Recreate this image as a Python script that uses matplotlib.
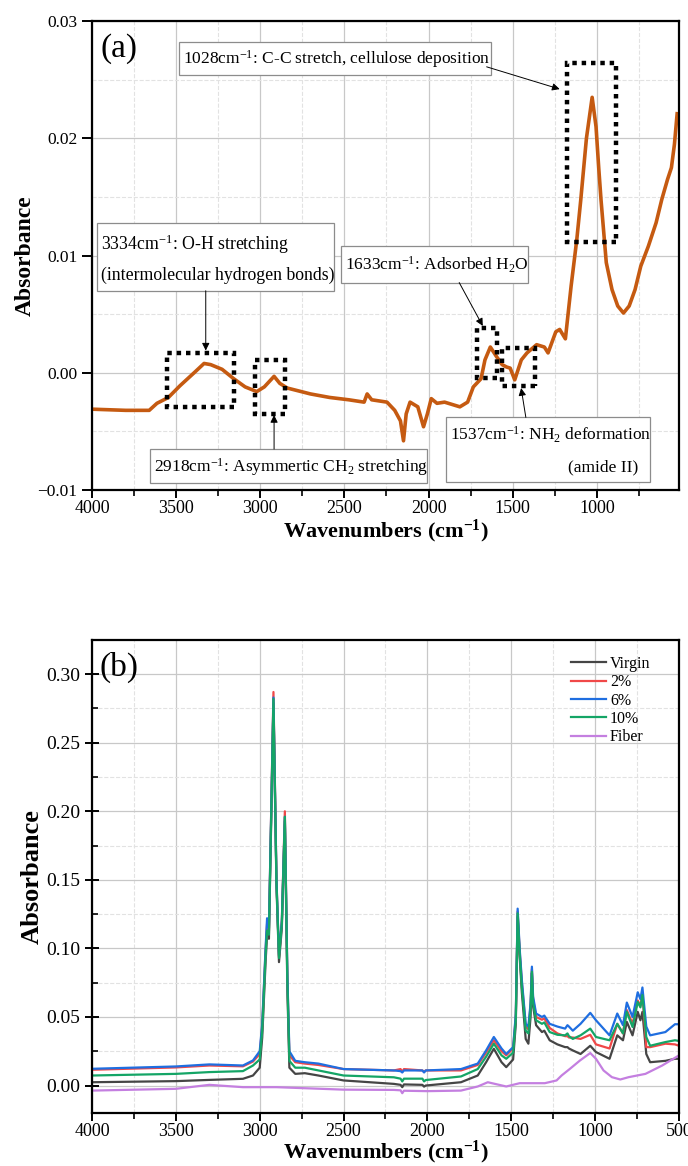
import matplotlib
matplotlib.use("Agg")
import matplotlib.pyplot as plt
from matplotlib.patches import Rectangle
from matplotlib.ticker import MultipleLocator, FixedLocator

plt.rcParams['font.family'] = ['Liberation Serif', 'DejaVu Serif']
plt.rcParams['mathtext.fontset'] = 'custom'
plt.rcParams['mathtext.rm'] = 'Liberation Serif'
plt.rcParams['mathtext.it'] = 'Liberation Serif:italic'
plt.rcParams['mathtext.bf'] = 'Liberation Serif:bold'

# ---- panel (a): fiber spectrum ----
wn_a = [4000, 3800, 3660, 3614, 3546, 3477, 3386, 3334, 3295, 3227, 3158, 3090,
        3021, 2976, 2918, 2884, 2839, 2702, 2588, 2474, 2383, 2365, 2338, 2247,
        2201, 2167, 2149, 2133, 2110, 2064, 2030, 2007, 1984, 1950, 1905, 1814,
        1768, 1734, 1688, 1665, 1633, 1597, 1563, 1537, 1515, 1488, 1449, 1415,
        1358, 1312, 1290, 1244, 1221, 1187, 1153, 1119, 1096, 1062, 1028, 1005,
        989, 975, 944, 910, 876, 842, 808, 773, 739, 694, 648, 614, 580, 557,
        539, 523]
abs_a = [-0.0031, -0.0032, -0.0032, -0.0026, -0.0021, -0.0011, 0.0001, 0.0008,
         0.0007, 0.0003, -0.0005, -0.0012, -0.0016, -0.0012, -0.0003, -0.0009,
         -0.0013, -0.0018, -0.0021, -0.0023, -0.0025, -0.0018, -0.0023, -0.0025,
         -0.0032, -0.0041, -0.0058, -0.0035, -0.0025, -0.0029, -0.0046, -0.0035,
         -0.0022, -0.0026, -0.0025, -0.0029, -0.0025, -0.0012, -0.0005, 0.0011,
         0.0022, 0.0014, 0.0007, 0.0005, 0.0004, -0.0006, 0.0011, 0.0017,
         0.0024, 0.0022, 0.0017, 0.0035, 0.0037, 0.0029, 0.0074, 0.0114,
         0.0147, 0.0200, 0.0235, 0.0210, 0.0175, 0.0147, 0.0094, 0.0071,
         0.0057, 0.0051, 0.0057, 0.0071, 0.0091, 0.0108, 0.0128, 0.0148,
         0.0165, 0.0175, 0.0195, 0.0221]

# ---- panel (b): composites ----
wn_b = [4000, 3500, 3300, 3100, 3040, 3000, 2985, 2965, 2956, 2945, 2918, 2900,
        2885, 2868, 2850, 2835, 2823, 2788, 2731, 2650, 2500, 2200, 2160, 2150,
        2140, 2030, 2020, 2010, 1800, 1700, 1650, 1604, 1558, 1530, 1489, 1473,
        1462, 1450, 1437, 1414, 1398, 1385, 1377, 1370, 1352, 1317, 1303, 1271,
        1225, 1179, 1165, 1156, 1133, 1087, 1029, 995, 914, 868, 834, 811, 777,
        746, 730, 718, 695, 672, 581, 524, 500]
virgin = [0.0024, 0.0032, 0.0041, 0.0049, 0.0073, 0.013, 0.035, 0.09, 0.11, 0.107,
          0.279, 0.145, 0.090, 0.115, 0.193, 0.07, 0.013, 0.0085, 0.009, 0.0073,
          0.0037, 0.0012, 0.0005, -0.0012, 0.0008, 0.0005, -0.0008, 0.0, 0.0024,
          0.0073, 0.017, 0.0268, 0.017, 0.0134, 0.019, 0.045, 0.123, 0.094, 0.068,
          0.034, 0.0305, 0.05, 0.082, 0.058, 0.044, 0.039, 0.040, 0.033, 0.030,
          0.028, 0.028, 0.027, 0.0256, 0.023, 0.029, 0.0244, 0.0195, 0.0366,
          0.033, 0.0464, 0.0366, 0.0537, 0.0476, 0.0537, 0.023, 0.017, 0.018,
          0.0195, 0.0195]
pct2 = [0.0115, 0.0132, 0.0146, 0.0140, 0.0175, 0.023, 0.043, 0.098, 0.118, 0.113,
        0.287, 0.15, 0.094, 0.12, 0.200, 0.078, 0.022, 0.017, 0.016, 0.015,
        0.012, 0.011, 0.012, 0.010, 0.012, 0.011, 0.010, 0.011, 0.011, 0.015,
        0.024, 0.033, 0.025, 0.022, 0.027, 0.050, 0.127, 0.098, 0.075, 0.043,
        0.041, 0.058, 0.085, 0.063, 0.050, 0.048, 0.049, 0.042, 0.038, 0.036,
        0.036, 0.035, 0.035, 0.034, 0.037, 0.030, 0.027, 0.045, 0.038, 0.055,
        0.045, 0.062, 0.058, 0.067, 0.028, 0.028, 0.0305, 0.030, 0.029]
pct6 = [0.0122, 0.0139, 0.0154, 0.0146, 0.0183, 0.025, 0.045, 0.10, 0.122, 0.115,
        0.283, 0.15, 0.095, 0.12, 0.196, 0.08, 0.025, 0.018, 0.017, 0.016,
        0.012, 0.011, 0.0105, 0.0095, 0.011, 0.011, 0.0095, 0.011, 0.012, 0.016,
        0.0256, 0.0354, 0.027, 0.023, 0.028, 0.052, 0.129, 0.10, 0.077, 0.045,
        0.043, 0.06, 0.0867, 0.065, 0.0525, 0.050, 0.051, 0.045, 0.043, 0.0415,
        0.044, 0.043, 0.040, 0.045, 0.053, 0.0476, 0.0366, 0.0525, 0.044, 0.0605,
        0.050, 0.068, 0.063, 0.0715, 0.043, 0.0366, 0.039, 0.0447, 0.0447]
pct10 = [0.0073, 0.0085, 0.0098, 0.0105, 0.0146, 0.019, 0.040, 0.095, 0.113, 0.11,
         0.282, 0.148, 0.093, 0.118, 0.196, 0.075, 0.018, 0.013, 0.013, 0.011,
         0.0073, 0.006, 0.005, 0.003, 0.005, 0.005, 0.003, 0.004, 0.0066, 0.012,
         0.021, 0.0305, 0.022, 0.0195, 0.024, 0.048, 0.1256, 0.096, 0.072, 0.040,
         0.038, 0.055, 0.083, 0.060, 0.0476, 0.045, 0.046, 0.039, 0.037, 0.0366,
         0.038, 0.036, 0.034, 0.0366, 0.0415, 0.0354, 0.033, 0.045, 0.038, 0.0537,
         0.0427, 0.061, 0.057, 0.066, 0.0354, 0.029, 0.0317, 0.033, 0.0325]
wn_fiber = [4000, 3500, 3300, 3100, 2900, 2500, 2200, 2160, 2150, 2140, 2000, 1800,
            1700, 1640, 1530, 1450, 1300, 1230, 1200, 1150, 1090, 1029, 995, 950,
            900, 850, 800, 700, 600, 500]
fiber = [-0.0037, -0.0024, 0.0005, -0.0012, -0.0012, -0.0030, -0.0032, -0.0035,
         -0.0056, -0.0038, -0.0041, -0.0037, -0.0007, 0.0024, -0.0007, 0.0017,
         0.0017, 0.0037, 0.0073, 0.0122, 0.0183, 0.0237, 0.0195, 0.011, 0.0061,
         0.0044, 0.0061, 0.0085, 0.0146, 0.022]

series_names = ['Virgin', '2%', '6%', '10%', 'Fiber']
series_colors = ['#454545', '#f04848', '#1f6ee0', '#14a566', '#c47fe0']


def style_axes(ax, ytick_size, xtick_size):
    ax.grid(which='major', color='#c8c8c8', lw=0.9)
    ax.grid(which='minor', color='#e2e2e2', lw=0.8, ls='--')
    ax.set_axisbelow(True)
    for s in ax.spines.values():
        s.set_linewidth(1.6)
    ax.tick_params(axis='x', which='major', direction='out', length=6, width=1.4,
                   labelsize=xtick_size, pad=1.5)
    ax.tick_params(axis='x', which='minor', direction='out', length=4, width=1.2)
    ax.tick_params(axis='y', which='major', direction='out', length=7, width=1.4,
                   labelsize=ytick_size)
    ax.tick_params(axis='y', which='minor', direction='in', length=4, width=1.2)


fig = plt.figure(figsize=(6.88, 11.66), dpi=100)

# ================= (a) =================
ax1 = fig.add_axes([0.1337, 0.5797, 0.8532, 0.4022])
ax1.plot(wn_a, abs_a, color='#c55a11', lw=2.6)
ax1.set_xlim(4000, 512)
ax1.set_ylim(-0.01, 0.03)
ax1.xaxis.set_major_locator(FixedLocator([4000, 3500, 3000, 2500, 2000, 1500, 1000]))
ax1.xaxis.set_minor_locator(FixedLocator([3750, 3250, 2750, 2250, 1750, 1250, 750]))
ax1.yaxis.set_major_locator(MultipleLocator(0.01))
ax1.yaxis.set_minor_locator(MultipleLocator(0.005))
ax1.yaxis.set_major_formatter(matplotlib.ticker.FuncFormatter(
    lambda v, p: ('%.2f' % v).replace('-', '\u2212')))
style_axes(ax1, 12.5, 13)
ax1.tick_params(axis='y', which='minor', length=0)
ax1.set_xlabel('Wavenumbers (cm$^{\\mathbf{-1}}$)', fontsize=16, fontweight='bold',
               labelpad=0)
ax1.set_ylabel('Absorbance', fontsize=17, fontweight='bold', labelpad=1)
ax1.text(0.015, 0.975, '(a)', transform=ax1.transAxes, fontsize=24, va='top')

# dotted highlight boxes (x0, x1, y0, y1)
boxes_a = [(1176, 886, 0.0112, 0.0264),
           (3557, 3158, -0.0029, 0.0017),
           (3032, 2855, -0.0035, 0.0011),
           (1712, 1591, -0.0004, 0.0038),
           (1564, 1365, -0.0011, 0.0021)]
for x0, x1, y0, y1 in boxes_a:
    ax1.add_patch(Rectangle((x1, y0), x0 - x1, y1 - y0, fill=False, ec='black',
                            lw=3.2, ls=(0, (1, 1.1)), zorder=4))

# label boxes
label_boxes = [(3482, 1632, 0.0254, 0.0282),
               (3968, 2562, 0.0070, 0.0128),
               (2520, 1411, 0.0077, 0.0108),
               (3655, 2007, -0.0094, -0.0065),
               (1895, 685, -0.0093, -0.0038)]
for x0, x1, y0, y1 in label_boxes:
    ax1.add_patch(Rectangle((x1, y0), x0 - x1, y1 - y0, fc='white', ec='#8c8c8c',
                            lw=0.9, zorder=5))

tsz = 12.5
ax1.text(3462, 0.0268, '1028cm$^{\\mathregular{-1}}$: C-C stretch, cellulose deposition',
         fontsize=tsz, va='center', ha='left', zorder=6)
ax1.text(3945, 0.0110, '3334cm$^{\\mathregular{-1}}$: O-H stretching',
         fontsize=tsz + 0.3, va='center', ha='left', zorder=6)
ax1.text(3945, 0.0083, '(intermolecular hydrogen bonds)',
         fontsize=tsz + 0.3, va='center', ha='left', zorder=6)
ax1.text(2497, 0.0092, '1633cm$^{\\mathregular{-1}}$: Adsorbed H$_{\\mathregular{2}}$O',
         fontsize=tsz, va='center', ha='left', zorder=6)
ax1.text(3632, -0.0080, '2918cm$^{\\mathregular{-1}}$: Asymmertic CH$_{\\mathregular{2}}$ stretching',
         fontsize=tsz, va='center', ha='left', zorder=6)
ax1.text(1872, -0.0053, '1537cm$^{\\mathregular{-1}}$: NH$_{\\mathregular{2}}$ deformation',
         fontsize=tsz, va='center', ha='left', zorder=6)
ax1.text(753, -0.0081, '(amide II)', fontsize=tsz, va='center', ha='right', zorder=6)

arrows_a = [((1655, 0.0261), (1221, 0.0242)),
            ((3324, 0.0070), (3324, 0.0019)),
            ((1818, 0.0077), (1678, 0.0040)),
            ((2918, -0.0065), (2918, -0.0036)),
            ((1422, -0.0038), (1450, -0.0013))]
for start, end in arrows_a:
    ax1.annotate('', xy=end, xytext=start,
                 arrowprops=dict(arrowstyle='-|>', color='black', lw=0.7,
                                 mutation_scale=11, shrinkA=0, shrinkB=0),
                 zorder=6)

# ================= (b) =================
ax2 = fig.add_axes([0.1337, 0.0455, 0.8532, 0.4057])
for wn, y, name, c in zip([wn_b, wn_b, wn_b, wn_b, wn_fiber],
                          [virgin, pct2, pct6, pct10, fiber],
                          series_names, series_colors):
    ax2.plot(wn, y, color=c, lw=1.6, label=name)
ax2.set_xlim(4000, 500)
ax2.set_ylim(-0.02, 0.325)
ax2.xaxis.set_major_locator(MultipleLocator(500))
ax2.xaxis.set_minor_locator(MultipleLocator(250))
ax2.yaxis.set_major_locator(FixedLocator([0.0, 0.05, 0.10, 0.15, 0.20, 0.25, 0.30]))
ax2.yaxis.set_minor_locator(FixedLocator([0.025, 0.075, 0.125, 0.175, 0.225, 0.275]))
ax2.yaxis.set_major_formatter(matplotlib.ticker.FormatStrFormatter('%.2f'))
style_axes(ax2, 14, 13)
ax2.tick_params(axis='y', which='major', direction='inout', length=10)
ax2.set_xlabel('Wavenumbers (cm$^{\\mathbf{-1}}$)', fontsize=16, fontweight='bold',
               labelpad=-1)
ax2.set_ylabel('Absorbance', fontsize=19, fontweight='bold', labelpad=2)
ax2.text(0.012, 0.975, '(b)', transform=ax2.transAxes, fontsize=24, va='top')
ax2.legend(loc='upper left', bbox_to_anchor=(0.805, 0.98), borderaxespad=0,
           frameon=False, fontsize=11.5, handlelength=2.2, handletextpad=0.25,
           labelspacing=0.15)

fig.savefig('out.png', dpi=100)
